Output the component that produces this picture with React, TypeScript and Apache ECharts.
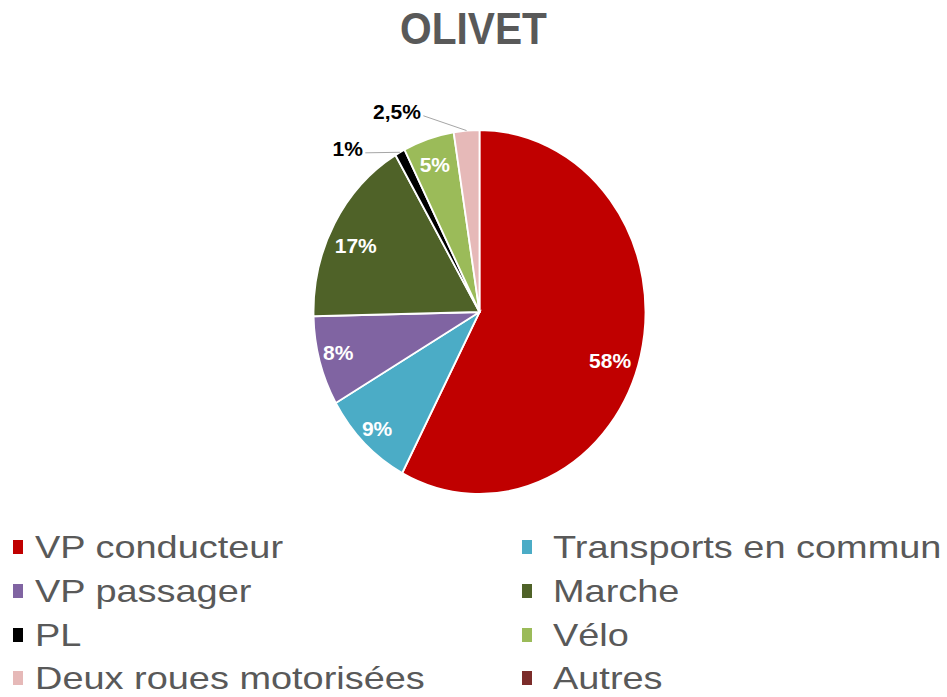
import React, { useEffect, useRef } from "react";
import * as echarts from "echarts";

// ---- data ----
const titleText = "OLIVET";
const categories = [
  "VP conducteur",
  "Transports en commun",
  "VP passager",
  "Marche",
  "PL",
  "Vélo",
  "Deux roues motorisées",
  "Autres",
];
const shares = [58, 9, 8, 17, 1, 5, 2.5, 0];

// ---- styles ----
const colors = ["#C00000", "#4BACC6", "#8064A2", "#4F6228", "#000000", "#9BBB59", "#E6B9B8", "#7B2C2A"];
const FONT = "'Liberation Sans', Arial, Helvetica, sans-serif";
const PIE = { cx: 479.5, cy: 312, rx: 166, ry: 182 };
// [angle shift in degrees from slice mid-angle, radial fraction, outside?]
const labelPlacement: [number, number, boolean][] = [
  [4.7, 0.83, false],
  [0, 0.89, false],
  [1, 0.88, false],
  [-3, 0.83, false],
  [-12.8, 1.2, true],
  [-0.4, 0.856, false],
  [-19.8, 1.21, true],
  [0, 0.9, false],
];
const legendCols = { marker: [13, 522], text: [35, 553] };
const legendRowMid = [547, 591, 635, 678];

const total = shares.reduce((a, b) => a + b, 0);
const cumulative = shares.map((_, i) => shares.slice(0, i).reduce((a, b) => a + b, 0));

function fmt(v: number) {
  return String(v).replace(".", ",") + "%";
}

let measureCtx: CanvasRenderingContext2D | null = null;
function textWidth(t: string, font: string) {
  if (!measureCtx) measureCtx = document.createElement("canvas").getContext("2d");
  if (!measureCtx) return t.length * 10;
  measureCtx.font = font;
  return measureCtx.measureText(t).width;
}

export default function App() {
  const ref = useRef<HTMLDivElement>(null);
  useEffect(() => {
    if (!ref.current) return;
    const chart = echarts.init(ref.current, undefined, { renderer: "svg" });

    const renderItem = (params: any, api: any) => {
      const i = params.dataIndex;
      const v = api.value(0) as number;
      if (!v) return { type: "group", children: [] };
      const a0 = (cumulative[i] / total) * Math.PI * 2;
      const a1 = ((cumulative[i] + v) / total) * Math.PI * 2;
      const R = PIE.ry;
      const children: any[] = [
        {
          type: "sector",
          x: PIE.cx,
          y: PIE.cy,
          scaleX: PIE.rx / PIE.ry,
          shape: {
            cx: 0,
            cy: 0,
            r: R,
            r0: 0,
            startAngle: a0 - Math.PI / 2,
            endAngle: a1 - Math.PI / 2,
            clockwise: true,
          },
          style: { fill: colors[i], stroke: "#ffffff", lineWidth: 2, strokeNoScale: true },
        },
      ];
      const [shift, frac, outside] = labelPlacement[i];
      const mid = (a0 + a1) / 2;
      const la = mid + (shift * Math.PI) / 180;
      const lx = PIE.cx + PIE.rx * frac * Math.sin(la);
      const ly = PIE.cy - PIE.ry * frac * Math.cos(la);
      const label = fmt(v);
      const lfont = `bold 21px ${FONT}`;
      children.push({
        type: "text",
        x: lx,
        y: ly,
        style: {
          text: label,
          fill: outside ? "#000000" : "#ffffff",
          fontSize: 21,
          fontWeight: "bold",
          fontFamily: FONT,
          align: "center",
          verticalAlign: "middle",
        },
      });
      if (outside) {
        const w = textWidth(label, lfont);
        const ex = PIE.cx + PIE.rx * Math.sin(mid);
        const ey = PIE.cy - PIE.ry * Math.cos(mid);
        children.push({
          type: "line",
          shape: { x1: lx + w / 2 + 2.5, y1: ly + 4.5, x2: ex, y2: ey },
          style: { stroke: "#A6A6A6", lineWidth: 1 },
        });
      }
      return { type: "group", children };
    };

    const legendElems: any[] = [];
    categories.forEach((name, i) => {
      const col = i % 2;
      const row = Math.floor(i / 2);
      const mid = legendRowMid[row];
      legendElems.push({
        type: "rect",
        shape: { x: legendCols.marker[col], y: mid - 7, width: 10, height: 14 },
        style: { fill: colors[i] },
      });
      legendElems.push({
        type: "text",
        x: legendCols.text[col],
        y: mid,
        scaleX: 1.185,
        style: {
          text: name,
          fill: "#595959",
          fontSize: 32,
          lineHeight: 28,
          fontFamily: FONT,
          align: "left",
          verticalAlign: "middle",
        },
      });
    });

    chart.setOption({
      animation: false,
      backgroundColor: "#ffffff",
      graphic: [
        {
          type: "text",
          x: 473.5,
          y: 29,
          scaleX: 0.925,
          style: {
            text: titleText,
            fill: "#595959",
            fontSize: 44,
            fontWeight: "bold",
            fontFamily: FONT,
            align: "center",
            verticalAlign: "middle",
          },
        },
        ...legendElems,
      ],
      series: [
        {
          type: "custom",
          name: "Parts modales",
          coordinateSystem: "none",
          silent: true,
          data: shares.map((v, i) => ({ name: categories[i], value: [v] })),
          renderItem,
        },
      ],
    });
    return () => chart.dispose();
  }, []);
  return (
    <div
      ref={ref}
      style={{ position: "fixed", left: 0, top: 0, width: 947, height: 697, background: "#fff" }}
    />
  );
}
